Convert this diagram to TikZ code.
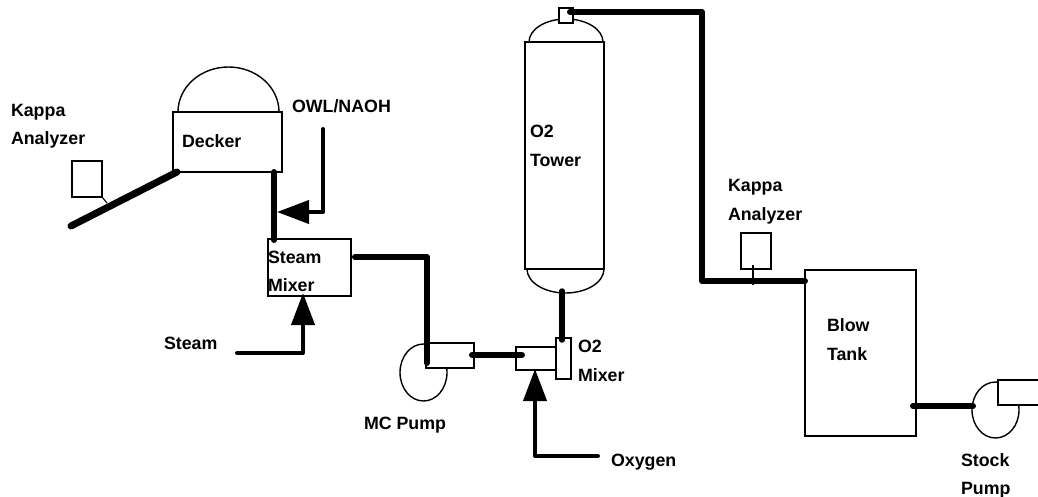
\documentclass[tikz,border=0pt]{standalone}
\usepackage{fontspec}
\setmainfont{Liberation Sans}
\usetikzlibrary{arrows.meta,shapes.geometric}
\tikzset{
  vessel/.style={draw=black,line width=1.3pt,fill=white,rectangle,inner sep=0pt,outer sep=0pt},
  outline/.style={draw=black,line width=1.4pt},
  pipe/.style={draw=black,line width=6pt,line cap=round,line join=round},
  feed/.style={draw=black,line width=4pt,line cap=round,line join=round,-{Triangle[length=32pt,width=23pt]}},
  tap/.style={draw=black,line width=1.1pt},
  lbl/.style={font=\fontsize{17.8pt}{20pt}\selectfont\bfseries,anchor=base west,inner sep=0pt,outer sep=0pt,text=black},
}
\begin{document}
\begin{tikzpicture}[x=1pt,y=-1pt]
\useasboundingbox (0,0) rectangle (1038,497);
% free-end and bend coordinates
\coordinate (dkOut) at (177,172);
\coordinate (dkEnd) at (71,226);
\coordinate (kaTap) at (107,203);
\coordinate (kaFoot) at (102,197);
\coordinate (dkDown) at (274,172);
\coordinate (smTop) at (274,240);
\coordinate (owlStart) at (323,129);
\coordinate (owlBend) at (323,212);
\coordinate (owlTip) at (277,212);
\coordinate (smOut) at (355,257);
\coordinate (smBend) at (427,257);
\coordinate (mcIn) at (427,363);
\coordinate (stStart) at (237,353);
\coordinate (stBend) at (303,353);
\coordinate (stTip) at (303,293);
\coordinate (mcOut) at (472,355);
\coordinate (o2In) at (522,355);
\coordinate (twBot) at (562,291);
\coordinate (o2Top) at (562,340);
\coordinate (oxStart) at (598,456);
\coordinate (oxBend) at (535,456);
\coordinate (oxTip) at (535,369);
\coordinate (twTop) at (570,12);
\coordinate (b1) at (702,12);
\coordinate (b2) at (702,281);
\coordinate (btIn) at (805,281);
\coordinate (k2a) at (753,265);
\coordinate (k2b) at (753,285);
\coordinate (btOut) at (913,406);
\coordinate (spIn) at (973,406);
% pumps and domes
\node[ellipse,outline,minimum width=47pt,minimum height=57pt,inner sep=0pt] (mcBody) at (423.5,372.5) {};
\node[ellipse,outline,minimum width=47pt,minimum height=56pt,inner sep=0pt] (spBody) at (995.5,410) {};
\draw[outline] (178,112) arc[start angle=180,end angle=0,x radius=50.5pt,y radius=45pt];
\draw[outline] (529,42) arc[start angle=180,end angle=0,x radius=37pt,y radius=23pt];
\draw[outline] (527,269) arc[start angle=180,end angle=360,x radius=38.5pt,y radius=24pt];
% vessels
\node[vessel,minimum width=109pt,minimum height=60pt] (decker) at (227.5,142) {};
\node[vessel,minimum width=30pt,minimum height=36pt] (ka1) at (87,179) {};
\node[vessel,minimum width=83pt,minimum height=57pt] (steam) at (309.5,267.5) {};
\node[vessel,minimum width=48pt,minimum height=25pt] (mcBox) at (450,355.5) {};
\node[vessel,minimum width=40pt,minimum height=23pt] (o2Box) at (536,358.5) {};
\node[vessel,minimum width=15pt,minimum height=41pt] (o2Tall) at (563.5,358.5) {};
\node[vessel,minimum width=79pt,minimum height=227pt] (tower) at (564.5,155.5) {};
\node[vessel,minimum width=14pt,minimum height=15pt] (twCap) at (566,15.5) {};
\node[vessel,minimum width=30pt,minimum height=36pt] (ka2) at (756,251) {};
\node[vessel,minimum width=111pt,minimum height=166pt] (blow) at (860.5,353) {};
\node[vessel,minimum width=50pt,minimum height=25pt] (spBox) at (1023,392.5) {};
% pipes
\draw[tap] (kaFoot) -- (kaTap);
\draw[pipe,line width=7pt] (dkOut) -- (dkEnd);
\draw[pipe] (dkDown) -- (smTop);
\draw[pipe] (smOut) -- (smBend) -- (mcIn);
\draw[pipe] (mcOut) -- (o2In);
\draw[pipe,line width=5.5pt] (twBot) -- (o2Top);
\draw[pipe] (twTop) -- (b1) -- (b2) -- (btIn);
\draw[tap] (k2a) -- (k2b);
\draw[pipe] (btOut) -- (spIn);
% feeds
\draw[feed] (owlStart) -- (owlBend) -- (owlTip);
\draw[feed] (stStart) -- (stBend) -- (stTip);
\draw[feed] (oxStart) -- (oxBend) -- (oxTip);
% labels
\node[lbl] (t1) at (11,117) {Kappa};
\node[lbl] (t2) at (11,145) {Analyzer};
\node[lbl] (t3) at (182,148) {Decker};
\node[lbl] (t4) at (292,113) {OWL/NAOH};
\node[lbl] (t5) at (268,263) {Steam};
\node[lbl] (t6) at (268,291) {Mixer};
\node[lbl] (t7) at (164,349) {Steam};
\node[lbl] (t8) at (364,429) {MC Pump};
\node[lbl] (t9) at (578,352) {O2};
\node[lbl] (t10) at (578,381) {Mixer};
\node[lbl] (t11) at (611,466) {Oxygen};
\node[lbl] (t12) at (530,138) {O2};
\node[lbl] (t13) at (530,167) {Tower};
\node[lbl] (t14) at (728,192) {Kappa};
\node[lbl] (t15) at (728,220) {Analyzer};
\node[lbl] (t16) at (827,331) {Blow};
\node[lbl] (t17) at (827,360) {Tank};
\node[lbl] (t18) at (961,466) {Stock};
\node[lbl] (t19) at (961,494) {Pump};
\end{tikzpicture}
\end{document}
